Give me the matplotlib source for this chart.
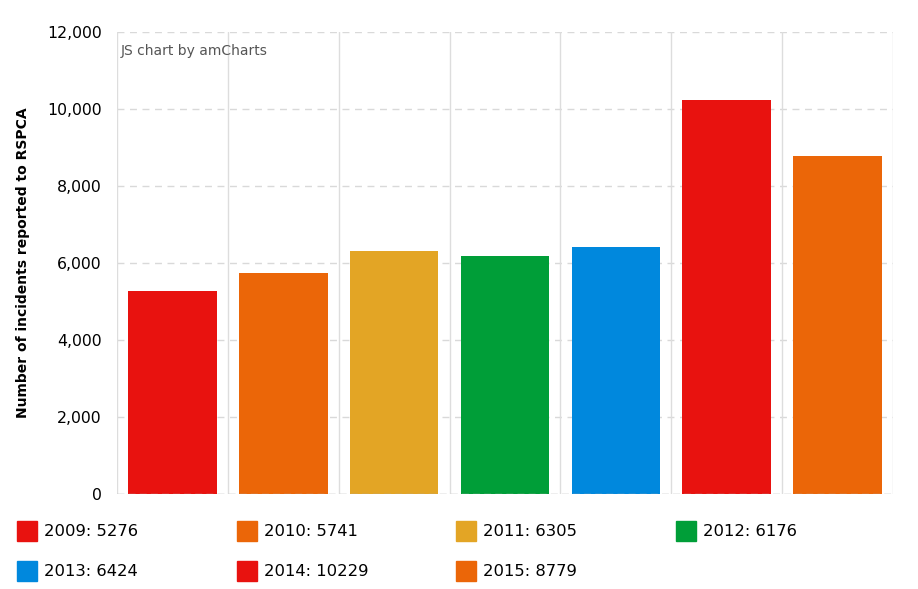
import matplotlib.pyplot as plt
from matplotlib.patches import Rectangle

years = ['2009', '2010', '2011', '2012', '2013', '2014', '2015']
incidents = [5276, 5741, 6305, 6176, 6424, 10229, 8779]
colors = ['#E8120F', '#EB6608', '#E3A525', '#009E38', '#0088DD', '#E8120F', '#EB6608']

plt.rcParams['font.family'] = ['DejaVu Sans']

fig = plt.figure(figsize=(9.18, 5.89), dpi=100)
ax = fig.add_axes([117 / 918, 95 / 589, 776 / 918, 462 / 589])

x = range(len(years))
ax.bar(x, incidents, width=0.8, color=colors, zorder=3)

ax.set_xlim(-0.5, len(years) - 0.5)
ax.set_ylim(0, 12000)
ax.set_yticks(range(0, 12001, 2000))
ax.set_yticklabels([f'{v:,}' for v in range(0, 12001, 2000)], fontsize=11.3, color='#000000')
ax.set_xticks([])
ax.tick_params(axis='y', length=0, pad=11)

# horizontal dashed grid
for v in range(2000, 12001, 2000):
    ax.axhline(v, color='#d9d9d9', lw=1, ls=(0, (5, 4)), zorder=1)
ax.axhline(0, color='#aaaaaa', lw=1, ls=(0, (5, 3)), zorder=4)
# vertical solid lines between categories
for b in range(len(years) + 1):
    ax.axvline(b - 0.5, color='#dddddd', lw=1, zorder=1)

for s in ax.spines.values():
    s.set_visible(False)

ax.set_ylabel('Number of incidents reported to RSPCA', fontsize=10,
              fontweight='bold')
ax.yaxis.set_label_coords(-0.112, 0.5)

ax.text(0.005, 0.975, 'JS chart by amCharts', transform=ax.transAxes,
        fontsize=10, color='#555555', va='top', ha='left')

# legend below
col_x = [17, 237, 456, 676]
row_y = [531, 571]
for i, (yr, val, c) in enumerate(zip(years, incidents, colors)):
    cx = col_x[i % 4]
    cy = row_y[i // 4]
    fig.patches.append(Rectangle((cx / 918, 1 - (cy + 10) / 589), 20 / 918, 20 / 589,
                                 transform=fig.transFigure, color=c, figure=fig))
    fig.text((cx + 27) / 918, 1 - cy / 589, f'{yr}: {val}', fontsize=11.8,
             va='center', ha='left', color='#000000')

fig.savefig('out.png', dpi=100)
